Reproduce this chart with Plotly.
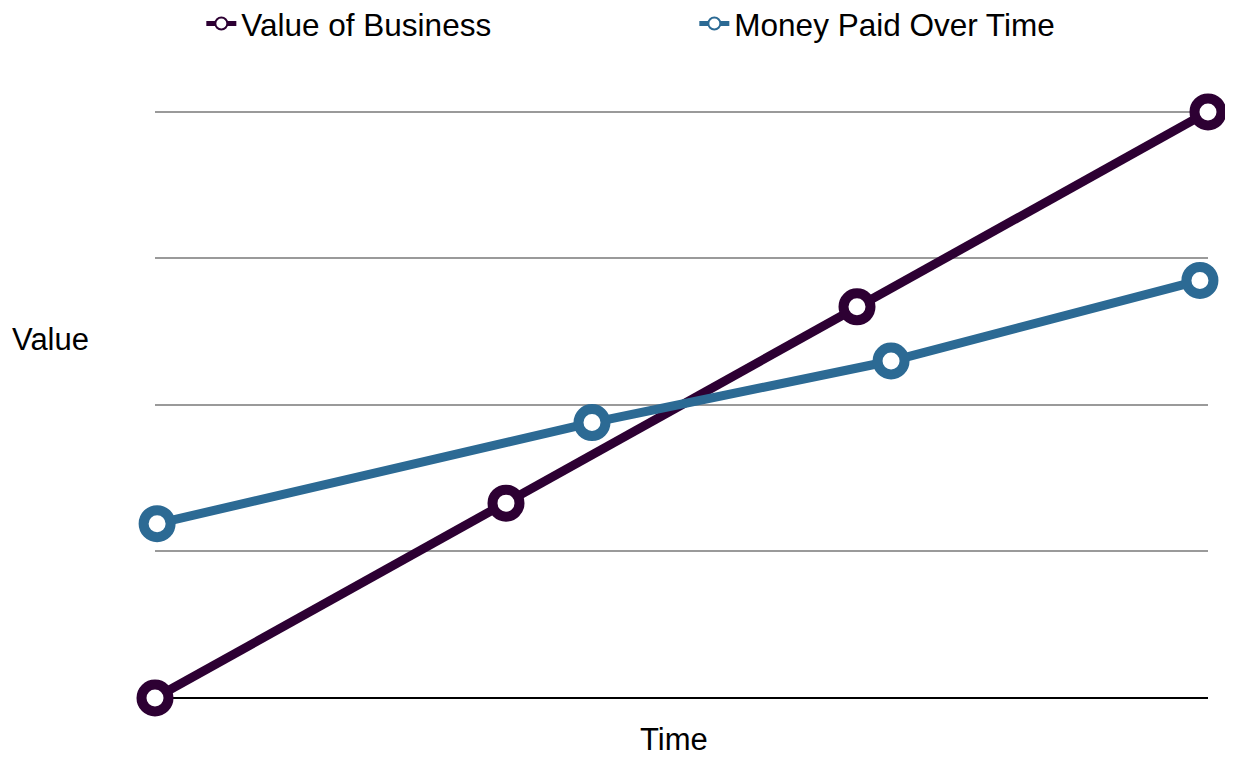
import plotly.graph_objects as go

series_names = ["Value of Business", "Money Paid Over Time"]
business_x = [0, 1.0, 2.0, 3.0]
business_y = [0, 1.33, 2.67, 4.0]
money_x = [0.006, 1.245, 2.097, 2.977]
money_y = [1.19, 1.88, 2.30, 2.85]
colors = ["#2d0033", "#2c6a94"]

fig = go.Figure()
for name, xs, ys, c in [(series_names[0], business_x, business_y, colors[0]),
                        (series_names[1], money_x, money_y, colors[1])]:
    fig.add_trace(go.Scatter(
        x=xs, y=ys, name=name, mode="lines+markers",
        line=dict(color=c, width=9),
        marker=dict(size=27, color="white", line=dict(color=c, width=10)),
        cliponaxis=False,
    ))

fig.update_layout(
    width=1225, height=752,
    margin=dict(l=147, r=25, t=101, b=62, autoexpand=False),
    paper_bgcolor="white", plot_bgcolor="white",
    font=dict(family="Liberation Sans, Arial, Helvetica, sans-serif", size=31, color="black"),
    showlegend=True,
    legend=dict(orientation="h", x=0.044, xanchor="left", y=1.145, yanchor="middle",
                yref="paper", entrywidth=448, font=dict(size=31.5),
                itemsizing="constant", bgcolor="rgba(0,0,0,0)"),
    xaxis=dict(range=[0, 3], showgrid=False, zeroline=False, showticklabels=False,
               showline=False, ticks=""),
    yaxis=dict(range=[0, 4.02], showgrid=True, gridcolor="#9a9a9a", gridwidth=2,
               tickvals=[1, 2, 3, 4], showticklabels=False, zeroline=True,
               zerolinecolor="black", zerolinewidth=2, showline=False, ticks=""),
    annotations=[
        dict(text="Value", xref="paper", yref="paper", x=-0.1377, y=0.608,
             xanchor="left", yanchor="middle", showarrow=False, font=dict(size=31)),
        dict(text="Time", xref="paper", yref="paper", x=0.493, y=-0.0713,
             xanchor="center", yanchor="middle", showarrow=False, font=dict(size=31)),
    ],
)

fig.write_html("out.html")
